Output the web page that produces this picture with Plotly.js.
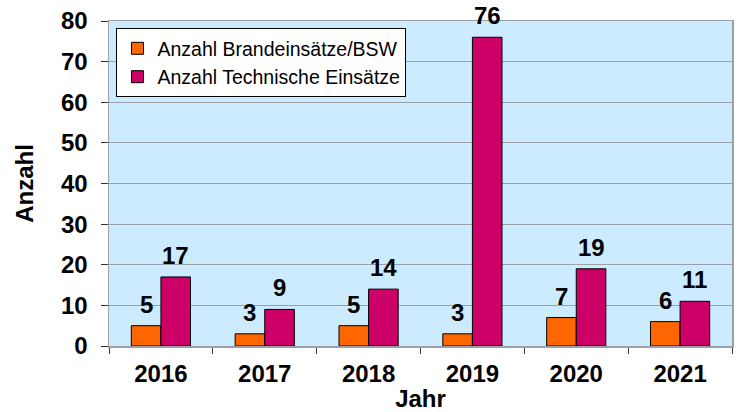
<!DOCTYPE html>
<html>
<head>
<meta charset="utf-8">
<script src="https://cdn.plot.ly/plotly-3.0.1.min.js"></script>
<style>html,body{margin:0;padding:0;background:#fff;}#chart{width:738px;height:412px;}</style>
</head>
<body>
<div id="chart"></div>
<script>
const years = ['2016', '2017', '2018', '2019', '2020', '2021'];
const brand = [5, 3, 5, 3, 7, 6];
const technisch = [17, 9, 14, 76, 19, 11];
const seriesNames = ['Anzahl Brandeinsätze/BSW', 'Anzahl Technische Einsätze'];
const yTicks = [0, 10, 20, 30, 40, 50, 60, 70, 80];

const FONT = 'Liberation Sans, Arial, sans-serif';
const labelFont = {family: FONT, size: 24, color: '#000', weight: 'bold'};
const BARGAP = 0.43;
const half = (1 - BARGAP) / 4; // offset of each bar centre from category centre

const traces = [
  {type: 'bar', x: years, y: brand, name: seriesNames[0],
   marker: {color: '#FF6600', line: {color: '#000', width: 1}}},
  {type: 'bar', x: years, y: technisch, name: seriesNames[1],
   marker: {color: '#CC0066', line: {color: '#000', width: 1}}}
];

const annotations = [];
years.forEach((yr, i) => {
  annotations.push({x: i - half, y: brand[i], xref: 'x', yref: 'y', text: String(brand[i]),
    showarrow: false, yanchor: 'bottom', yshift: 6, font: labelFont});
  annotations.push({x: i + half, y: technisch[i], xref: 'x', yref: 'y', text: String(technisch[i]),
    showarrow: false, yanchor: 'bottom', yshift: 6, font: labelFont});
});

const layout = {
  width: 738, height: 412,
  margin: {l: 109, r: 6, t: 21, b: 66},
  paper_bgcolor: '#fff', plot_bgcolor: '#CCEBFF',
  barmode: 'group', bargap: BARGAP, bargroupgap: 0,
  font: {family: FONT, color: '#000'},
  showlegend: true,
  legend: {x: 0.012, y: 0.978, xanchor: 'left', yanchor: 'top',
    bgcolor: '#fff', bordercolor: '#000', borderwidth: 1,
    font: {family: FONT, size: 19.5, color: '#000'}, tracegroupgap: 0, itemwidth: 30},
  annotations: annotations,
  xaxis: {type: 'category', showgrid: false, showline: true, mirror: true,
    linecolor: '#9aa0a8', linewidth: 1.5,
    ticks: 'outside', tickson: 'boundaries', ticklen: 6, tickcolor: '#333',
    tickfont: labelFont, ticklabelstandoff: 6,
    title: {text: 'Jahr', font: labelFont, standoff: 8}},
  yaxis: {range: [0, 80], tickvals: yTicks, showgrid: true, gridcolor: '#9aa0a8', gridwidth: 1,
    showline: true, mirror: true, linecolor: '#9aa0a8', linewidth: 1.5,
    ticks: 'outside', ticklen: 7, tickcolor: '#333', zeroline: true, zerolinecolor: '#333',
    tickfont: labelFont, ticklabelstandoff: 8,
    title: {text: 'Anzahl', font: labelFont, standoff: 20}}
};

Plotly.newPlot('chart', traces, layout, {displayModeBar: false, staticPlot: true});
</script>
</body>
</html>
